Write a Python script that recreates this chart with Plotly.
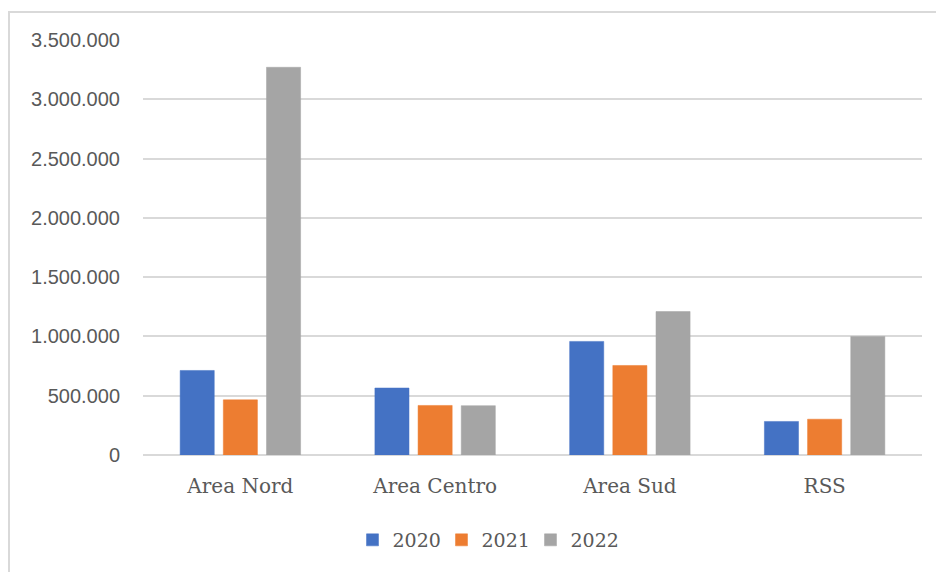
import plotly.graph_objects as go

# Data
categories = ["Area Nord", "Area Centro", "Area Sud", "RSS"]
values_2020 = [713000, 565000, 958000, 283000]
values_2021 = [465000, 418000, 755000, 302000]
values_2022 = [3270000, 416000, 1210000, 1000000]
series_names = ["2020", "2021", "2022"]
series_colors = ["#4472C4", "#ED7D31", "#A5A5A5"]
y_ticks = [0, 500000, 1000000, 1500000, 2000000, 2500000, 3000000, 3500000]

W, H = 936, 572
L, R, T, B = 143, 14, 40, 117

fig = go.Figure()
for name, vals, col in zip(series_names, [values_2020, values_2021, values_2022], series_colors):
    fig.add_trace(go.Bar(
        x=categories, y=vals, name=name,
        marker=dict(color=col, line=dict(color=col, width=0.5)),
    ))

# Light frame around the chart area (paper coordinates derived from pixels)
pw, ph = W - L - R, H - T - B
def px_x(px):
    return (px - L) / pw
def px_y(py):
    return (H - B - py) / ph

fig.add_shape(type="rect", xref="paper", yref="paper",
              x0=px_x(9), x1=px_x(960), y0=px_y(600), y1=px_y(12),
              line=dict(color="#D9D9D9", width=2), fillcolor="rgba(0,0,0,0)", layer="below")

fig.update_layout(
    width=W, height=H,
    margin=dict(l=L, r=R, t=T, b=B, pad=0),
    paper_bgcolor="white", plot_bgcolor="white",
    barmode="group", bargap=0.335, bargroupgap=0.21,
    separators=",.",
    showlegend=True,
    legend=dict(orientation="h", x=px_x(486), xanchor="center",
                y=px_y(540), yanchor="middle",
                font=dict(family="DejaVu Serif", size=19, color="#595959"),
                entrywidth=44, traceorder="normal"),
    xaxis=dict(showgrid=False, showline=False, zeroline=False,
               ticks="outside", ticklen=13, tickcolor="rgba(0,0,0,0)",
               tickfont=dict(family="DejaVu Serif", size=20, color="#595959")),
    yaxis=dict(range=[0, 3500000], tickvals=y_ticks, tickformat=",d",
               showgrid=True, gridcolor="#D9D9D9", gridwidth=1.5,
               zeroline=True, zerolinecolor="#D9D9D9", zerolinewidth=1.5,
               showline=False,
               ticks="outside", ticklen=18, tickcolor="rgba(0,0,0,0)",
               tickfont=dict(family="Liberation Sans", size=20, color="#595959")),
)

fig.write_html("out.html")
